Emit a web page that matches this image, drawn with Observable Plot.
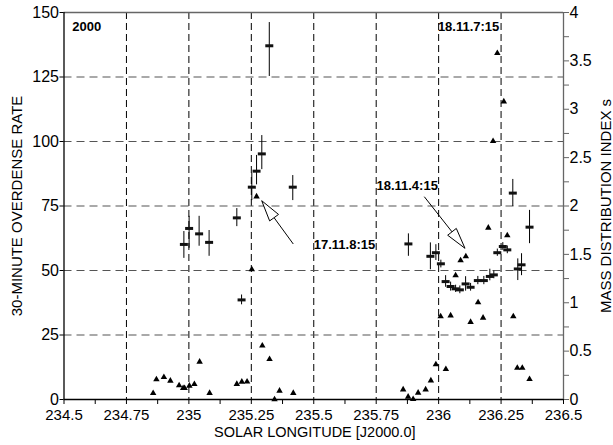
<!DOCTYPE html>
<html>
<head>
<meta charset="utf-8">
<script src="https://cdn.jsdelivr.net/npm/d3@7"></script>
<script src="https://cdn.jsdelivr.net/npm/@observablehq/plot@0.6"></script>
<style>
  html, body { margin: 0; padding: 0; background: #fff; }
  #chart svg { display: block; }
</style>
</head>
<body>
<div id="chart"></div>
<script>
// ---- 30-minute overdense rate (crosses with error bars) ----
const rateLon = [234.980, 235.001, 235.041, 235.081, 235.192, 235.211, 235.252, 235.271, 235.292, 235.322, 235.416,
                 235.879, 235.967, 235.989, 236.009, 236.028, 236.048, 236.068, 236.085, 236.108, 236.128, 236.157,
                 236.181, 236.205, 236.221, 236.235, 236.257, 236.275, 236.297, 236.317, 236.332, 236.364];
const rateVal = [60.1, 66.3, 64.2, 60.9, 70.4, 38.6, 82.3, 88.5, 95.2, 137.1, 82.3,
                 60.3, 55.5, 56.9, 52.6, 45.7, 43.8, 42.9, 42.5, 44.8, 43.5, 46.1,
                 46.1, 47.7, 48.3, 56.9, 59.3, 58.0, 80.0, 50.6, 52.2, 66.8];
const rateLo  = [54.7, 58.6, 59.4, 55.5, 67.0, 36.7, 77.1, 83.2, 89.1, 125.2, 77.1,
                 55.5, 50.3, 53.9, 51.0, 43.5, 42.0, 41.5, 41.0, 42.0, 42.0, 44.5,
                 44.5, 46.0, 46.8, 55.5, 57.8, 56.5, 74.8, 46.1, 48.0, 60.4];
const rateHi  = [65.1, 71.0, 71.0, 65.5, 74.0, 40.5, 87.7, 94.6, 102.3, 146.1, 86.8,
                 64.2, 60.7, 60.0, 54.0, 48.0, 45.5, 44.3, 44.0, 47.6, 45.0, 47.7,
                 47.7, 50.5, 49.8, 58.3, 60.8, 59.5, 85.3, 54.5, 56.5, 73.3];

// ---- mass distribution index s (triangles, right axis) ----
const sLon = [234.857, 234.870, 234.900, 234.926, 234.961, 234.977, 234.983, 235.002, 235.022, 235.043, 235.083,
              235.192, 235.212, 235.233, 235.252, 235.271, 235.294, 235.323, 235.343, 235.363, 235.418,
              235.858, 235.878, 235.898, 235.918, 235.948, 235.969, 235.989, 236.008, 236.029, 236.048,
              236.068, 236.088, 236.109, 236.128, 236.158, 236.178, 236.199, 236.218, 236.235, 236.261,
              236.275, 236.299, 236.315, 236.335, 236.364];
const sVal = [0.065, 0.207, 0.230, 0.193, 0.145, 0.117, 0.117, 0.142, 0.158, 0.390, 0.067,
              0.160, 0.183, 0.184, 1.344, 2.098, 0.556, 0.417, 0.000, 0.090, 0.067,
              0.103, 0.028, 0.003, 0.069, 0.103, 0.196, 0.362, 0.858, 0.313, 0.868,
              1.282, 1.437, 1.478, 0.800, 1.003, 0.844, 1.775, 2.670, 3.580, 3.080,
              1.695, 0.858, 0.327, 0.327, 0.210];

// ---- ticks ----
const xLabelTicks = [234.5, 234.75, 235, 235.25, 235.5, 235.75, 236, 236.25, 236.5];
const xMinorTicks = [234.625, 234.875, 235.125, 235.375, 235.625, 235.875, 236.125, 236.375];
const xGridTicks  = [234.75, 235, 235.25, 235.5, 235.75, 236, 236.25];
const yTicks      = [0, 25, 50, 75, 100, 125, 150];
const yGridTicks  = [25, 50, 75, 100, 125];
const sTicks      = [0, 0.5, 1, 1.5, 2, 2.5, 3, 3.5, 4];
const sMinorTicks = [0.25, 0.75, 1.25, 1.75, 2.25, 2.75, 3.25, 3.75];

// ---- annotations ----
const noteText = ["2000", "18.11.7:15", "17.11.8:15", "18.11.4:15"];
const noteLon  = [234.533, 235.997, 235.500, 235.751];
const noteRate = [144.3, 144.6, 60.0, 82.9];
const arrowTipLon   = [235.2936, 236.1076];
const arrowTipRate  = [76.86, 58.41];
const arrowTailLon  = [235.420, 235.9446];
const arrowTailRate = [60.08, 78.41];

const xLabel = "SOLAR LONGITUDE [J2000.0]";
const yLabel = "30-MINUTE OVERDENSE RATE";
const sLabel = "MASS DISTRIBUTION INDEX s";

const RATE_MAX = 150, S_MAX = 4, K = RATE_MAX / S_MAX;

const rates = rateLon.map((x, i) => ({x, y: rateVal[i], lo: rateLo[i], hi: rateHi[i]}));
const svals = sLon.map((x, i) => ({x, y: sVal[i] * K}));
const notes = noteText.map((t, i) => ({t, x: noteLon[i], y: noteRate[i]}));

const dashSymbol = { draw(ctx) { ctx.rect(-4, -1.5, 8, 3); } };
const FONT = "Liberation Sans, Arial, Helvetica, sans-serif";

const chart = Plot.plot({
  width: 613,
  height: 445,
  marginLeft: 63.5,
  marginRight: 50,
  marginTop: 12,
  marginBottom: 46,
  style: { fontFamily: FONT, background: "#fff", color: "#000", overflow: "visible" },
  x: { domain: [234.5, 236.5], axis: null },
  y: { domain: [0, RATE_MAX], axis: null },
  marks: [
    Plot.gridX(xGridTicks, { stroke: "#000", strokeOpacity: 1, strokeWidth: 1, strokeDasharray: "7,4" }),
    Plot.gridY(yGridTicks, { stroke: "#555", strokeOpacity: 1, strokeWidth: 1.2, strokeDasharray: "8,5" }),
    Plot.ruleY([RATE_MAX], { stroke: "#666", strokeWidth: 1.3 }),
    Plot.ruleX([236.5], { stroke: "#666", strokeWidth: 1.3 }),
    Plot.ruleY([0], { stroke: "#000", strokeWidth: 1.3 }),
    Plot.ruleX([234.5], { stroke: "#000", strokeWidth: 1.3 }),
    Plot.axisX(xLabelTicks, { anchor: "bottom", tickSize: 5, tickPadding: 5, fontSize: 15, label: null,
      stroke: "#000", tickFormat: d => String(d) }),
    Plot.axisX(xMinorTicks, { anchor: "bottom", tickSize: 5, tickFormat: () => "", label: null }),
    Plot.axisY(yTicks, { anchor: "left", tickSize: 4, tickPadding: 1, fontSize: 16, label: null, tickFormat: d => String(d) }),
    Plot.axisY(sTicks.map(s => s * K), { anchor: "right", tickSize: 5, tickPadding: 1, fontSize: 16, label: null,
      stroke: "#666", tickFormat: d => String(+(d / K).toFixed(2)) }),
    Plot.axisY(sMinorTicks.map(s => s * K), { anchor: "right", tickSize: 5, stroke: "#666", tickFormat: () => "", label: null }),
    Plot.text([xLabel], { frameAnchor: "bottom", textAnchor: "middle", dy: 37, dx: 1, fontSize: 14.5, fill: "#000", text: d => d }),
    Plot.text([yLabel], { frameAnchor: "left", textAnchor: "middle", dx: -47, rotate: -90, fontSize: 15, fill: "#000", text: d => d }),
    Plot.text([sLabel], { frameAnchor: "right", textAnchor: "middle", dx: 43, rotate: -90, fontSize: 15, fill: "#000", text: d => d }),
    Plot.ruleX(rates, { x: "x", y1: "lo", y2: "hi", stroke: "#000", strokeWidth: 1 }),
    Plot.dot(rates, { x: "x", y: "y", symbol: dashSymbol, fill: "#111", stroke: "none", r: 3 }),
    Plot.dot(svals, { x: "x", y: "y", symbol: "triangle", fill: "#000", stroke: "none", r: 2.4 }),
    Plot.text(notes, { x: "x", y: "y", text: "t", textAnchor: "start", fontWeight: "bold", fontSize: 13, fill: "#000" })
  ]
});

document.getElementById("chart").appendChild(chart);

// arrows with hollow heads, positioned through the plot's own scales
const sx = chart.scale("x"), sy = chart.scale("y");
const svg = d3.select(chart);
const g = svg.append("g").attr("fill", "none").attr("stroke", "#000").attr("stroke-width", 1);
arrowTipLon.forEach((_, i) => {
  const tx = sx.apply(arrowTipLon[i]), ty = sy.apply(arrowTipRate[i]);
  const ax = sx.apply(arrowTailLon[i]), ay = sy.apply(arrowTailRate[i]);
  const dx = tx - ax, dy = ty - ay, len = Math.hypot(dx, dy);
  const ux = dx / len, uy = dy / len;
  const hl = 21, hw = 5.5;
  const bx = tx - ux * hl, by = ty - uy * hl;
  g.append("line").attr("x1", ax).attr("y1", ay).attr("x2", bx).attr("y2", by);
  g.append("polygon")
    .attr("fill", "#fff")
    .attr("points", [[tx, ty], [bx - uy * hw, by + ux * hw], [bx + uy * hw, by - ux * hw]].map(p => p.join(",")).join(" "));
});
</script>
</body>
</html>
